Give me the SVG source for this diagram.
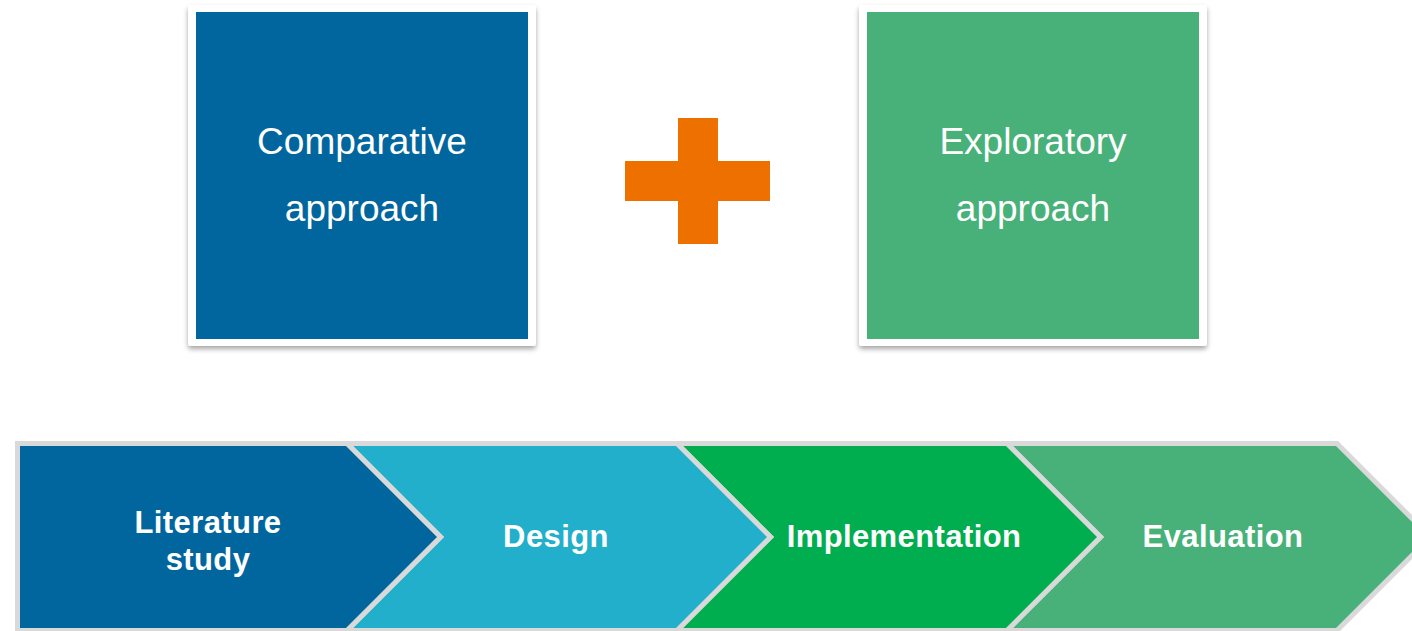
<svg xmlns="http://www.w3.org/2000/svg" width="1412" height="631" viewBox="0 0 1412 631">
  <defs>
    <filter id="sh" x="-10%" y="-10%" width="120%" height="120%">
      <feDropShadow dx="0" dy="3" stdDeviation="2.5" flood-color="#000" flood-opacity="0.35"/>
    </filter>
    <style>
      .frame { fill: #ffffff; }
      .ttl { font-family: "Liberation Sans", Arial, sans-serif; font-size: 37px; fill: #ffffff; text-anchor: middle; }
      .chev { stroke: #d9d9d9; stroke-width: 5; stroke-linejoin: miter; }
      .lbl { font-family: "Liberation Sans", Arial, sans-serif; font-size: 31px; letter-spacing: 0.4px; font-weight: bold; fill: #ffffff; text-anchor: middle; }
    </style>
  </defs>
  <rect width="1412" height="631" fill="#ffffff"/>

  <g id="comparative">
    <rect class="frame" x="188" y="5" width="348" height="341" rx="3" filter="url(#sh)"/>
    <rect x="196" y="12" width="332" height="327" fill="#02669e"/>
    <text class="ttl" x="362" y="154">Comparative</text>
    <text class="ttl" x="362" y="221">approach</text>
  </g>

  <g id="plus">
    <rect x="625" y="161" width="145" height="40" fill="#ee7100"/>
    <rect x="678" y="118" width="40" height="126" fill="#ee7100"/>
  </g>

  <g id="exploratory">
    <rect class="frame" x="859" y="5" width="348" height="341" rx="3" filter="url(#sh)"/>
    <rect x="867" y="12" width="332" height="327" fill="#48b17a"/>
    <text class="ttl" x="1033" y="154">Exploratory</text>
    <text class="ttl" x="1033" y="221">approach</text>
  </g>

  <g id="connectors"></g>

  <g id="evaluation">
    <polygon class="chev" fill="#48b17a" points="1007,443.5 1337,443.5 1430.5,537 1337,630.5 1007,630.5 1100.5,537"/>
    <text class="lbl" x="1223" y="547">Evaluation</text>
  </g>
  <g id="implementation">
    <polygon class="chev" fill="#00ad4f" points="677,443.5 1007,443.5 1100.5,537 1007,630.5 677,630.5 770.5,537"/>
    <text class="lbl" x="904" y="547">Implementation</text>
  </g>
  <g id="design">
    <polygon class="chev" fill="#21afcb" points="347,443.5 677,443.5 770.5,537 677,630.5 347,630.5 440.5,537"/>
    <text class="lbl" x="556" y="547">Design</text>
  </g>
  <g id="literature">
    <polygon class="chev" fill="#02669e" points="17.5,443.5 347,443.5 440.5,537 347,630.5 17.5,630.5"/>
    <text class="lbl" x="208" y="533">Literature</text>
    <text class="lbl" x="208" y="570">study</text>
  </g>
</svg>
